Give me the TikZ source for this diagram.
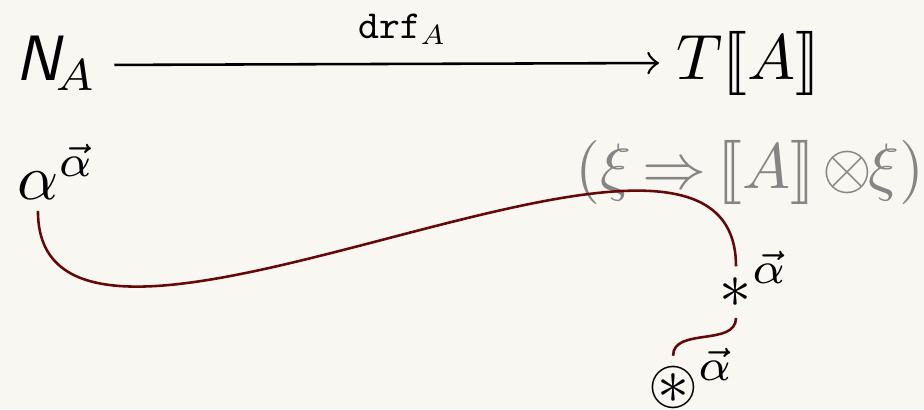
\documentclass[tikz,border=0pt]{standalone}
\usepackage{amsmath,amssymb,mathtools}
\usepackage{xcolor}
\usetikzlibrary{calc}
\definecolor{paper}{HTML}{F8F7F1}
\definecolor{wire} {HTML}{650808}
\definecolor{ghost}{HTML}{858585}
\newcommand{\tagged}[1]{\mathrlap{\smash{#1^{\vec{\alpha}}}}\phantom{#1}}
\newcommand{\sem}[1]{[\![#1]\!]}

\begin{document}
\begin{tikzpicture}[x=1.03cm,y=1.03cm]
\useasboundingbox (0,0) rectangle (4.920,2.178);
\fill[paper] (0,0) rectangle (4.920,2.178);
\node[inner xsep=2.5pt,inner ysep=0pt,anchor=base] (NA) at (0.300,1.747) {$\textsf{\textit{N}}_{\mkern-3mu A}$};
\node[inner xsep=2.5pt,inner ysep=0pt,anchor=base] (TA) at (3.985,1.757) {$T\sem{A}$};
\draw[line width=0.4pt,->] ([yshift=2.5pt]NA.base east) -- ([yshift=2.5pt]TA.base west);
\node[inner sep=0pt,anchor=base,yshift=6.4pt] (drf) at ($(NA.base)!0.5!(TA.base)$) {\scalebox{0.62}{$\mathtt{drf}_A$}};
\node[inner sep=0pt,anchor=base,text=ghost] (sig) at (3.994,1.172)
  {$(\xi\mathrel{\mkern-2mu\Rightarrow\mkern-2mu}\sem{A}\mkern2mu{\otimes}\mkern-1mu\xi)$};
\node[inner sep=1.5pt,anchor=base] (al) at (0.202,1.113) {$\tagged{\alpha}$};
\node[inner sep=1.5pt,anchor=base] (st) at (3.919,0.543) {$\tagged{\ast}$};
\node[inner sep=1.5pt,anchor=base] (cst) at (3.584,0.027) {$\tagged{\circledast}$};
\draw[wire,line width=0.4pt] (al.south) to[out=-90,in=90,looseness=0.87] (st.north);
\draw[wire,line width=0.4pt] (st.south) to[out=-90,in=90] (cst.north);
\end{tikzpicture}
\end{document}
